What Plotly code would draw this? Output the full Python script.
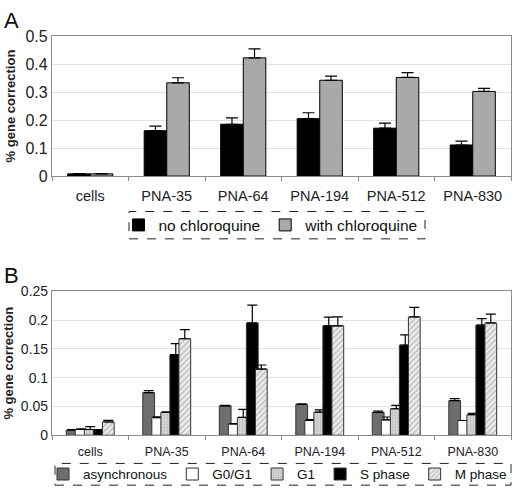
import plotly.graph_objects as go

categories = ["cells", "PNA-35", "PNA-64", "PNA-194", "PNA-512", "PNA-830"]

# Panel A
no_chloroquine = [0.008, 0.162, 0.185, 0.205, 0.171, 0.111]
no_chloroquine_err = [0.001, 0.016, 0.023, 0.021, 0.018, 0.014]
with_chloroquine = [0.008, 0.333, 0.422, 0.342, 0.352, 0.302]
with_chloroquine_err = [0.001, 0.018, 0.032, 0.015, 0.017, 0.011]

# Panel B
asynchronous = [0.009, 0.074, 0.051, 0.0535, 0.0395, 0.060]
asynchronous_err = [0.001, 0.0034, 0.001, 0.001, 0.0025, 0.0035]
g0g1 = [0.010, 0.0306, 0.0195, 0.0256, 0.0267, 0.0256]
g0g1_err = [0.0012, 0.0014, 0.0005, 0.0014, 0.005, 0.0]
g1 = [0.010, 0.0395, 0.031, 0.040, 0.046, 0.0356]
g1_err = [0.005, 0.001, 0.014, 0.004, 0.006, 0.0024]
s_phase = [0.009, 0.140, 0.195, 0.190, 0.1565, 0.1915]
s_phase_err = [0.001, 0.019, 0.031, 0.015, 0.018, 0.011]
m_phase = [0.023, 0.1676, 0.115, 0.190, 0.2055, 0.195]
m_phase_err = [0.0028, 0.016, 0.007, 0.0155, 0.0165, 0.0155]

FONT = "Liberation Sans, Arial, sans-serif"
W, H = 512, 499


def err(arr, w):
    return dict(type="data", array=arr, arrayminus=[0] * len(arr), symmetric=False,
                color="black", thickness=1.2, width=w)


fig = go.Figure()

lineA = dict(color="black", width=1)
fig.add_trace(go.Bar(x=categories, y=no_chloroquine, name="no chloroquine",
                     marker=dict(color="black", line=lineA), error_y=err(no_chloroquine_err, 6),
                     xaxis="x", yaxis="y", legend="legend"))
fig.add_trace(go.Bar(x=categories, y=with_chloroquine, name="with chloroquine",
                     marker=dict(color="#a9a9a9", line=lineA), error_y=err(with_chloroquine_err, 6),
                     xaxis="x", yaxis="y", legend="legend"))

lineB = dict(color="#333333", width=1)
fig.add_trace(go.Bar(x=categories, y=asynchronous, name="asynchronous",
                     marker=dict(color="#6e6e6e", line=lineB), error_y=err(asynchronous_err, 5),
                     xaxis="x2", yaxis="y2", legend="legend2"))
fig.add_trace(go.Bar(x=categories, y=g0g1, name="G0/G1",
                     marker=dict(color="white", line=lineB), error_y=err(g0g1_err, 5),
                     xaxis="x2", yaxis="y2", legend="legend2"))
fig.add_trace(go.Bar(x=categories, y=g1, name="G1",
                     marker=dict(color="#cfcfcf", line=lineB,
                                 pattern=dict(shape=".", bgcolor="#d6d6d6", fgcolor="#9a9a9a",
                                              size=3, solidity=0.3)),
                     error_y=err(g1_err, 5), xaxis="x2", yaxis="y2", legend="legend2"))
fig.add_trace(go.Bar(x=categories, y=s_phase, name="S phase",
                     marker=dict(color="black", line=lineB), error_y=err(s_phase_err, 5),
                     xaxis="x2", yaxis="y2", legend="legend2"))
fig.add_trace(go.Bar(x=categories, y=m_phase, name="M phase",
                     marker=dict(color="#e6e6e6", line=lineB,
                                 pattern=dict(shape="/", bgcolor="#ececec", fgcolor="#8a8a8a",
                                              size=4, solidity=0.35)),
                     error_y=err(m_phase_err, 5), xaxis="x2", yaxis="y2", legend="legend2"))

xdom = [52 / W, 511 / W]
frame = dict(showline=True, linecolor="#8c8c8c", linewidth=1.2, mirror=True)

fig.update_layout(
    width=W, height=H,
    margin=dict(l=0, r=0, t=0, b=0),
    paper_bgcolor="white", plot_bgcolor="white",
    font=dict(family=FONT, color="#222"),
    barmode="group",
    showlegend=True,
    xaxis=dict(domain=xdom, anchor="y", tickson="boundaries", ticks="outside", ticklen=4,
               tickcolor="#8c8c8c", ticklabelstandoff=6,
               tickfont=dict(family=FONT, size=14.5, color="#222"), **frame),
    yaxis=dict(domain=[(H - 174) / H, (H - 29) / H], anchor="x", range=[0, 0.5], dtick=0.1,
               showgrid=True, gridcolor="#e2e2e2", ticks="", zeroline=False,
               tickfont=dict(family=FONT, size=16, color="#222"),
               title=dict(text="<b>% gene correction</b>", font=dict(family=FONT, size=13), standoff=6),
               **frame),
    xaxis2=dict(domain=xdom, anchor="y2", tickson="boundaries", ticks="outside", ticklen=4,
                tickcolor="#8c8c8c", ticklabelstandoff=5,
                tickfont=dict(family=FONT, size=12.5, color="#222"), **frame),
    yaxis2=dict(domain=[(H - 442.3) / H, (H - 293.3) / H], anchor="x2", range=[0, 0.25], dtick=0.05,
                showgrid=True, gridcolor="#e2e2e2", ticks="", zeroline=False,
                tickfont=dict(family=FONT, size=14, color="#222"),
                title=dict(text="<b>% gene correction</b>", font=dict(family=FONT, size=13), standoff=4),
                **frame),
    bargap=0.41, bargroupgap=0,
    legend=dict(orientation="h", x=271 / W, y=1 - 225 / H, xanchor="center", yanchor="middle",
                font=dict(family=FONT, size=15.5, color="#111"), bgcolor="rgba(0,0,0,0)",
                itemwidth=30, traceorder="normal"),
    legend2=dict(orientation="h", x=283 / W, y=1 - 482.7 / H, xanchor="center", yanchor="middle",
                 font=dict(family=FONT, size=13.5, color="#111"), bgcolor="rgba(0,0,0,0)",
                 itemwidth=30, traceorder="normal"),
    annotations=[
        dict(text="A", x=2 / W, y=1 + 2 / H, xref="paper", yref="paper", xanchor="left", yanchor="top",
             showarrow=False, font=dict(family=FONT, size=22, color="#111")),
        dict(text="B", x=2 / W, y=1 - 262 / H, xref="paper", yref="paper", xanchor="left", yanchor="top",
             showarrow=False, font=dict(family=FONT, size=22, color="#111")),
    ],
    shapes=[
        dict(type="rect", xref="paper", yref="paper", x0=129 / W, x1=425 / W, y0=1 - 239 / H, y1=1 - 210.7 / H,
             line=dict(color="#222", width=1, dash="dash")),
        dict(type="rect", xref="paper", yref="paper", x0=55 / W, x1=511 / W, y0=1 - 494 / H, y1=1 - 471.5 / H,
             line=dict(color="#222", width=1, dash="dash")),
    ],
)

for tr in fig.data[2:]:
    tr.width = 0.77 / 5

page_css = ("var s=document.createElement('style');"
            "s.innerHTML='html,body{margin:0!important;padding:0!important;overflow:hidden!important;"
            "width:512px!important;height:499px!important}';"
            "document.head.appendChild(s);")

fig.write_html("out.html", config={"displayModeBar": False}, post_script=page_css)
